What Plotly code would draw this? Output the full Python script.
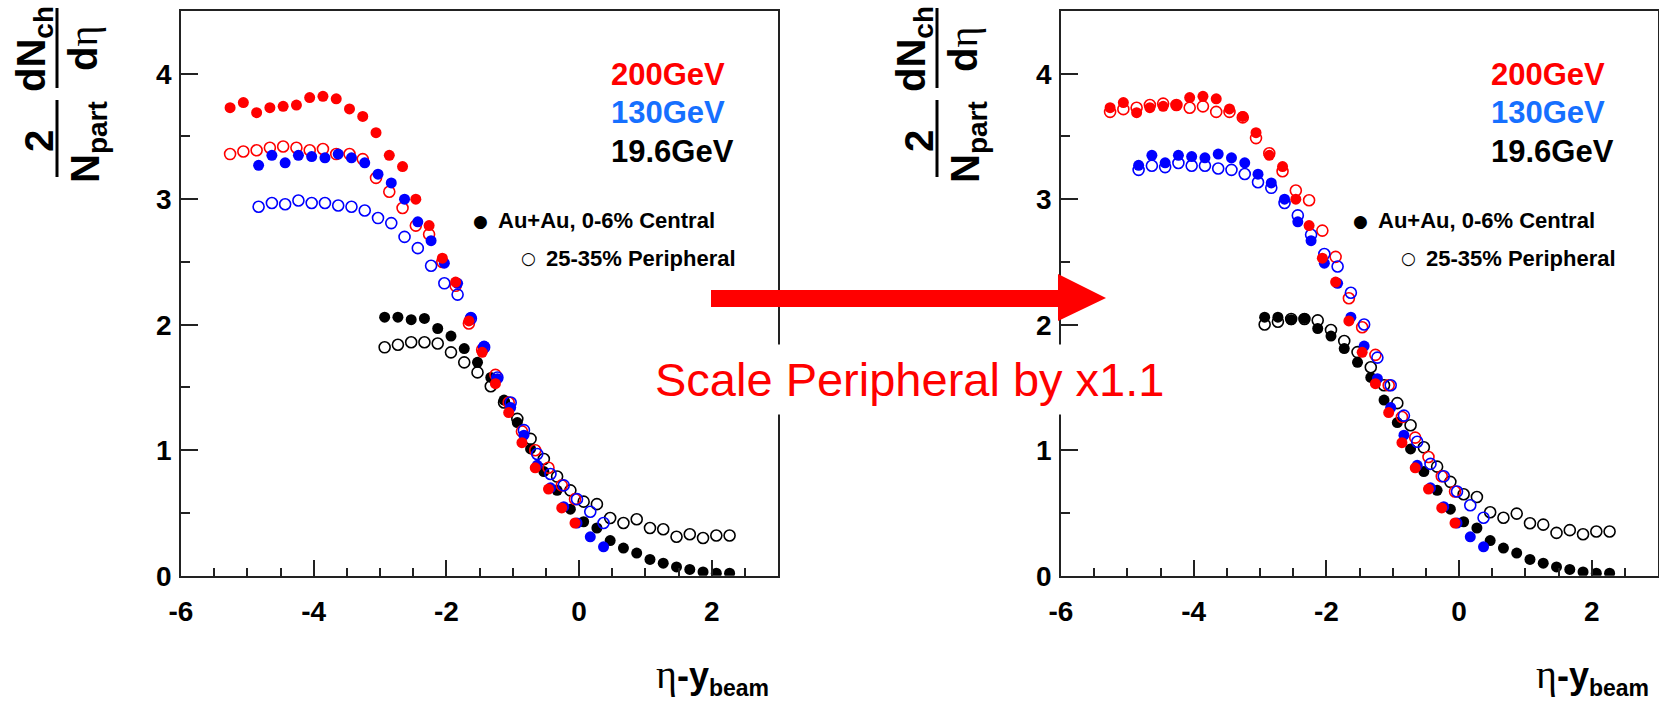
import plotly.graph_objects as go

W, H = 1659, 703

# ---------------- data ----------------
eta200 = [-5.26, -5.06, -4.86, -4.66, -4.46, -4.26, -4.06, -3.86, -3.66, -3.46, -3.26, -3.06, -2.86,
          -2.66, -2.46, -2.26, -2.06, -1.86, -1.66, -1.46, -1.26, -1.06, -0.86, -0.66, -0.46, -0.26, -0.06]
central200 = [3.73, 3.77, 3.69, 3.73, 3.74, 3.75, 3.81, 3.82, 3.80, 3.72, 3.66, 3.53, 3.35,
              3.26, 3.00, 2.79, 2.53, 2.34, 2.03, 1.78, 1.53, 1.30, 1.06, 0.86, 0.69, 0.54, 0.42]
periph200 = [3.36, 3.38, 3.39, 3.41, 3.42, 3.41, 3.39, 3.40, 3.36, 3.36, 3.32, 3.17, 3.06,
             2.93, 2.79, 2.72, 2.50, 2.31, 2.01, 1.80, 1.60, 1.38, 1.15, 1.00, 0.86, 0.72, 0.61]

eta130 = [-4.83, -4.63, -4.43, -4.23, -4.03, -3.83, -3.63, -3.43, -3.23, -3.03, -2.83, -2.63, -2.43,
          -2.23, -2.03, -1.83, -1.63, -1.43, -1.23, -1.03, -0.83, -0.63, -0.43, -0.23, -0.03, 0.17, 0.37]
central130 = [3.27, 3.35, 3.29, 3.35, 3.34, 3.33, 3.36, 3.33, 3.29, 3.20, 3.13, 3.00, 2.82,
              2.67, 2.49, 2.33, 2.06, 1.83, 1.57, 1.34, 1.12, 0.88, 0.70, 0.55, 0.42, 0.31, 0.23]
periph130 = [2.94, 2.97, 2.96, 2.99, 2.97, 2.97, 2.95, 2.94, 2.91, 2.85, 2.81, 2.70, 2.61,
             2.47, 2.33, 2.24, 2.05, 1.82, 1.58, 1.38, 1.16, 0.97, 0.81, 0.72, 0.61, 0.51, 0.42]

eta19 = [-2.93, -2.73, -2.53, -2.33, -2.13, -1.93, -1.73, -1.53, -1.33, -1.13, -0.93, -0.73, -0.53,
         -0.33, -0.13, 0.07, 0.27, 0.47, 0.67, 0.87, 1.07, 1.27, 1.47, 1.67, 1.87, 2.07, 2.27]
central19 = [2.06, 2.06, 2.04, 2.05, 1.97, 1.91, 1.81, 1.70, 1.58, 1.40, 1.22, 1.01, 0.83,
             0.68, 0.53, 0.43, 0.38, 0.28, 0.22, 0.18, 0.13, 0.10, 0.07, 0.05, 0.03, 0.02, 0.02]
periph19 = [1.82, 1.84, 1.86, 1.86, 1.85, 1.78, 1.70, 1.62, 1.51, 1.38, 1.25, 1.09, 0.93,
            0.79, 0.68, 0.59, 0.57, 0.46, 0.42, 0.45, 0.38, 0.37, 0.31, 0.33, 0.30, 0.32, 0.32]

PERIPH_SCALE = 1.1
x_tickvals = [-6, -4, -2, 0, 2]
x_ticktext = ["-6", "-4", "-2", "0", "2"]
y_tickvals = [0, 1, 2, 3, 4]
y_ticktext = ["0", "1", "2", "3", "4"]
energy_labels = ["200GeV", "130GeV", "19.6GeV"]
legend_labels = ["Au+Au, 0-6% Central", "25-35% Peripheral"]
note_text = "Scale Peripheral by x1.1"

# ---------------- styling ----------------
RED = "#FF0000"
BLUE = "#0000FF"
BLUE_TXT = "#1670FF"
BLACK = "#000000"
FONT = "Liberation Sans, Arial, Helvetica, sans-serif"
SERIF = "Liberation Serif, Times New Roman, serif"
MS = 11


def px(x):
    return x / W


def py(y):
    return 1 - y / H


fig = go.Figure()

series = [
    (eta19, periph19, BLACK, False),
    (eta19, central19, BLACK, True),
    (eta200, periph200, RED, False),
    (eta130, periph130, BLUE, False),
    (eta130, central130, BLUE, True),
    (eta200, central200, RED, True),
]

for panel, (xa, ya) in enumerate([("x", "y"), ("x2", "y2")]):
    for xs, ys, col, filled in series:
        if not filled and panel == 1:
            ys = [v * PERIPH_SCALE for v in ys]
        if filled:
            marker = dict(symbol="circle", size=MS, color=col, line=dict(width=0))
        else:
            marker = dict(symbol="circle-open", size=MS, color=col, line=dict(width=1.6, color=col))
        fig.add_trace(go.Scatter(x=xs, y=ys, mode="markers", marker=marker,
                                 xaxis=xa, yaxis=ya, showlegend=False, hoverinfo="skip"))

axis_common = dict(
    showline=True, linecolor="#222222", linewidth=1.5, mirror=True,
    ticks="inside", tickcolor="#222222", tickwidth=1.5,
    showgrid=False, zeroline=False, automargin=False,
    tickfont=dict(family=FONT, size=28, color=BLACK, weight="bold"),
)

x_dom_left = [px(181), px(778)]
x_dom_right = [px(1061), px(1658)]
y_dom = [py(575.7), py(11)]

xaxis_common = dict(axis_common, range=[-6, 3], tickmode="array", tickvals=x_tickvals,
                    ticktext=x_ticktext, ticklen=16,
                    minor=dict(dtick=0.5, tick0=0, ticklen=8, ticks="inside", tickcolor="#222222",
                               tickwidth=1.5),
                    ticklabelstandoff=10)
yaxis_common = dict(axis_common, range=[0, 4.5], tickmode="array", tickvals=y_tickvals,
                    ticktext=y_ticktext, ticklen=17,
                    minor=dict(dtick=0.5, tick0=0, ticklen=9, ticks="inside", tickcolor="#222222",
                               tickwidth=1.5),
                    ticklabelstandoff=2)

fig.update_layout(
    width=W, height=H,
    margin=dict(l=0, r=0, t=0, b=0, autoexpand=False),
    paper_bgcolor="white", plot_bgcolor="white",
    showlegend=False,
    xaxis=dict(xaxis_common, domain=x_dom_left, anchor="y"),
    yaxis=dict(yaxis_common, domain=y_dom, anchor="x"),
    xaxis2=dict(xaxis_common, domain=x_dom_right, anchor="y2"),
    yaxis2=dict(yaxis_common, domain=y_dom, anchor="x2"),
)

annotations = []
shapes = []
eta_span = "<span style='font-family:%s;font-weight:normal'>η</span>" % SERIF

for off in [0, 880]:
    # energy labels
    for lab, col, cy in zip(energy_labels, [RED, BLUE_TXT, BLACK], [74, 113, 151]):
        annotations.append(dict(text=lab, x=px(609 + off), y=py(cy), xref="paper", yref="paper",
                                xanchor="left", yanchor="middle", showarrow=False,
                                font=dict(family=FONT, size=31, color=col, weight="bold")))
    # marker legend: glyph + text
    leg_font = dict(family=FONT, size=22, color=BLACK, weight="bold")
    annotations.append(dict(text="●", x=px(480 + off), y=py(221), xref="paper", yref="paper",
                            xanchor="center", yanchor="middle", showarrow=False,
                            font=dict(family="DejaVu Sans", size=17, color=BLACK)))
    annotations.append(dict(text="○", x=px(528 + off), y=py(258), xref="paper", yref="paper",
                            xanchor="center", yanchor="middle", showarrow=False,
                            font=dict(family="DejaVu Sans", size=17, color=BLACK)))
    annotations.append(dict(text=legend_labels[0], x=px(496 + off), y=py(221), xref="paper", yref="paper",
                            xanchor="left", yanchor="middle", showarrow=False, font=leg_font))
    annotations.append(dict(text=legend_labels[1], x=px(544 + off), y=py(258), xref="paper", yref="paper",
                            xanchor="left", yanchor="middle", showarrow=False, font=leg_font))
    # y-axis title as two stacked fractions, rotated
    yt_font = dict(family=FONT, size=40, color=BLACK, weight="bold")
    annotations.append(dict(text="dN<sub>ch</sub>", x=px(34 + off), y=py(49), xref="paper", yref="paper",
                            xanchor="center", yanchor="middle", textangle=-90, showarrow=False, font=yt_font))
    annotations.append(dict(text="d" + eta_span, x=px(83 + off), y=py(49), xref="paper", yref="paper",
                            xanchor="center", yanchor="middle", textangle=-90, showarrow=False, font=yt_font))
    annotations.append(dict(text="2", x=px(39 + off), y=py(141), xref="paper", yref="paper",
                            xanchor="center", yanchor="middle", textangle=-90, showarrow=False, font=yt_font))
    annotations.append(dict(text="N<sub>part</sub>", x=px(88 + off), y=py(142), xref="paper", yref="paper",
                            xanchor="center", yanchor="middle", textangle=-90, showarrow=False, font=yt_font))
    shapes.append(dict(type="line", xref="paper", yref="paper", x0=px(57 + off), x1=px(57 + off),
                       y0=py(8), y1=py(88), line=dict(color=BLACK, width=3)))
    shapes.append(dict(type="line", xref="paper", yref="paper", x0=px(57 + off), x1=px(57 + off),
                       y0=py(100), y1=py(177), line=dict(color=BLACK, width=3)))
    # x-axis title
    annotations.append(dict(
        text=("<span style='font-family:%s;font-weight:normal;font-size:40px'>η</span>-y"
              "<sub><span style='font-size:23px'>beam</span></sub>") % SERIF,
        x=px(771 + off), y=py(676), xref="paper", yref="paper", xanchor="right", yanchor="middle",
        showarrow=False, font=dict(family=FONT, size=36, color=BLACK, weight="bold")))

# central note with white box
annotations.append(dict(text=note_text, x=px(910), y=py(379), xref="paper", yref="paper",
                        xanchor="center", yanchor="middle", showarrow=False, bgcolor="white",
                        borderpad=8, font=dict(family=FONT, size=47, color=RED)))

# big red arrow
arrow_pts = [(711, 290), (1058, 290), (1058, 274), (1106, 298), (1058, 321), (1058, 307), (711, 307)]
path = "M " + " L ".join(f"{px(a):.5f},{py(b):.5f}" for a, b in arrow_pts) + " Z"
shapes.append(dict(type="path", xref="paper", yref="paper", path=path, fillcolor=RED,
                   line=dict(width=0), layer="above"))

fig.update_layout(annotations=annotations, shapes=shapes)

fig.write_html("out.html")
